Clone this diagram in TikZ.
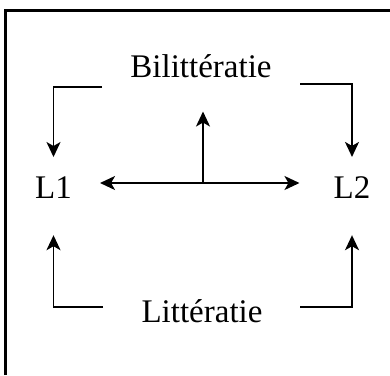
\documentclass[tikz,border=0pt]{standalone}
\usepackage{fontspec}
\setmainfont{Liberation Serif}
\usetikzlibrary{arrows.meta}
\begin{document}
\begin{tikzpicture}[x=1pt,y=1pt,
  lbl/.style={inner sep=0pt, anchor=base, font=\fontsize{33}{38}\selectfont},
  arr/.style={line width=1.9pt, -{Stealth[length=15pt,width=14pt,inset=4pt]}},
  frame/.style={line width=2.2pt}]
\useasboundingbox (0,0) rectangle (390,-375);
\draw[frame] (5.5,-375) -- (5.5,-10.5) -- (390,-10.5);
\node[lbl] (bil) at (201,-77) {Bilittératie};
\node[lbl] (lit) at (202,-322) {Littératie};
\node[lbl] (L1) at (53.5,-198) {L1};
\node[lbl] (L2) at (352,-198) {L2};
\coordinate (tl) at (102,-87);
\coordinate (tr) at (300,-84);
\coordinate (bl) at (103,-307);
\coordinate (br) at (300,-307);
\coordinate (m) at (203,-183);
\draw[arr, shorten >=19pt] (tl) -| (L1.north);
\draw[arr, shorten >=19pt] (tr) -| (L2.north);
\draw[arr, shorten >=37pt] (bl) -| (L1.south);
\draw[arr, shorten >=37pt] (br) -| (L2.south);
\draw[arr, shorten >=28pt] (m) -- (m -| L1.east);
\draw[arr, shorten >=34pt] (m) -- (m -| L2.west);
\draw[arr, shorten >=34pt] (m) -- (m |- bil.south);
\end{tikzpicture}
\end{document}
